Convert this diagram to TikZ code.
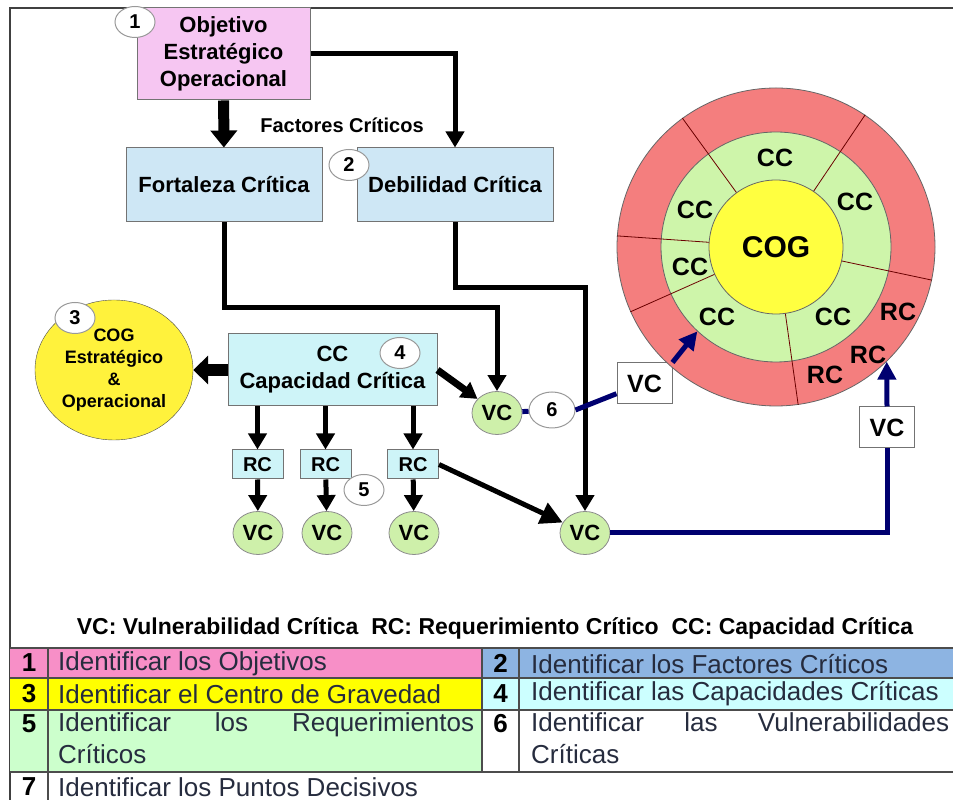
\documentclass[tikz,border=0pt]{standalone}
\usepackage{fontspec}
\setmainfont{Liberation Sans}
\usetikzlibrary{calc,shapes.geometric,arrows.meta,positioning}
\hyphenpenalty=10000
\exhyphenpenalty=10000

\definecolor{pinkbox}{RGB}{246,198,242}
\definecolor{bluebox}{RGB}{206,231,245}
\definecolor{cyanbox}{RGB}{206,244,248}
\definecolor{cogyellow}{RGB}{255,242,60}
\definecolor{vcgreen}{RGB}{206,240,170}
\definecolor{ringred}{RGB}{244,126,126}
\definecolor{ringgreen}{RGB}{206,245,170}
\definecolor{ringyellow}{RGB}{255,255,64}
\definecolor{navyline}{RGB}{0,0,112}
\definecolor{tabpink}{RGB}{247,143,199}
\definecolor{tabblue}{RGB}{141,180,226}
\definecolor{tabyellow}{RGB}{255,255,0}
\definecolor{tabcyan}{RGB}{204,255,255}
\definecolor{tabgreen}{RGB}{204,255,204}
\definecolor{tabtext}{RGB}{38,44,62}

\tikzset{
  frame/.style={draw=black!75, line width=1.5pt},
  box/.style={draw=black!55, line width=1pt, align=center, inner sep=0pt,
    font=\bfseries\fontsize{22}{27}\selectfont},
  numc/.style={ellipse, draw=black!40, fill=white, line width=1pt, inner sep=0pt,
    minimum width=40pt, minimum height=31pt, font=\bfseries\fontsize{20}{20}\selectfont},
  vcn/.style={ellipse, draw=black!45, fill=vcgreen, line width=0.8pt, inner sep=0pt,
    minimum width=50pt, minimum height=43pt, font=\bfseries\fontsize{22}{22}\selectfont},
  rcbox/.style={box, fill=cyanbox, minimum width=51pt, minimum height=29pt,
    font=\bfseries\fontsize{20}{20}\selectfont},
  vcbox/.style={draw=black!55, fill=white, line width=1pt, minimum width=55pt,
    minimum height=41pt, font=\bfseries\fontsize{25}{25}\selectfont},
  ringc/.style={circle, draw=black!60, line width=0.8pt, inner sep=0pt},
  ringtxt/.style={font=\bfseries\fontsize{25}{25}\selectfont},
  ringline/.style={draw=black!40!red!70!black, line width=0.8pt},
  blk/.style={line width=5pt, -{Triangle[width=18pt,length=16pt]}},
  blkwide/.style={line width=11pt, -{Triangle[width=26pt,length=17pt]}},
  blockarr/.style={line width=12pt, -{Triangle[width=28pt,length=15pt]}},
  navy/.style={draw=navyline, line width=5pt},
  navyarr/.style={navy, -{Triangle[width=18pt,length=18pt]}},
  tabline/.style={draw=black!70, line width=1.5pt},
  tabnum/.style={font=\bfseries\fontsize{26}{26}\selectfont},
  tabtxt/.style={anchor=west, inner sep=0pt, text=tabtext, font=\fontsize{26}{26}\selectfont},
  tabpar/.style={anchor=north west, inner sep=0pt, text=tabtext, align=justify,
    font=\fontsize{26}{32}\selectfont}
}

\begin{document}
\begin{tikzpicture}[x=1pt,y=1pt]
\useasboundingbox (0,0) rectangle (953,800);

% frame
\draw[frame] (10,0) -- (10,792) -- (953,792);

% objective and critical factors
\node[box, fill=pinkbox, minimum width=173pt, minimum height=92pt] (obj) at (223.5,746) {Objetivo\\Estratégico\\Operacional};
\node[box, fill=bluebox, minimum width=196pt, minimum height=74pt] (fort) at (224,615) {Fortaleza Crítica};
\node[box, fill=bluebox, minimum width=196pt, minimum height=74pt] (deb) at (455,615) {Debilidad Crítica};
\node[font=\bfseries\fontsize{20}{20}\selectfont] (fact) at (342,675) {Factores Críticos};

% centre of gravity and critical capability
\node[ellipse, draw=black!70, fill=cogyellow, minimum width=158pt, minimum height=140pt, inner sep=0pt,
  align=center, font=\bfseries\fontsize{18}{22}\selectfont] (cog) at (114,430) {COG\\Estratégico\\\&\\Operacional};
\node[box, fill=cyanbox, minimum width=209pt, minimum height=72pt] (cc) at (332.5,430) {CC\\Capacidad Crítica};

% requirements and vulnerabilities
\node[rcbox] (rc1) at (257.5,335.5) {RC};
\node[rcbox] (rc2) at (325.5,335.5) {RC};
\node[rcbox] (rc3) at (413,335.5) {RC};
\node[vcn] (vca) at (258,267) {VC};
\node[vcn] (vcb) at (327,267) {VC};
\node[vcn] (vcc) at (414,267) {VC};
\node[vcn] (vc1) at (497,387) {VC};
\node[vcn] (vc2) at (585,267) {VC};
\node[vcbox] (vcx1) at (644.5,416.5) {VC};
\node[vcbox] (vcx2) at (887,372.5) {VC};

% rings
\node[ringc, fill=ringred, minimum size=318pt] (ring) at (776,553) {};
\node[ringc, fill=ringgreen, minimum size=230pt] (mid) at (ring) {};
\node[ringc, fill=ringyellow, minimum size=134pt, font=\bfseries\fontsize{30}{30}\selectfont] (core) at (ring) {COG};
\foreach \a in {56,126,176,204,-12,-82}
  \draw[ringline] (core.\a) -- (ring.\a);
\node[ringtxt] (cc1) at (775,642) {CC};
\node[ringtxt] (cc2) at (855,598) {CC};
\node[ringtxt] (cc3) at (695,590) {CC};
\node[ringtxt] (cc4) at (690,533) {CC};
\node[ringtxt] (cc5) at (717,483) {CC};
\node[ringtxt] (cc6) at (833,483) {CC};
\node[ringtxt] (rcr1) at (898,488) {RC};
\node[ringtxt] (rcr2) at (868,445) {RC};
\node[ringtxt] (rcr3) at (825,425) {RC};

% black flow
\draw[blkwide] (obj) -- (fort);
\draw[blk] (obj.east) -| (deb.north);
\draw[blk] (fort.south) -- ++(0,-85) -| (vc1.north);
\draw[blk] (deb.south) -- ++(0,-65) -| (vc2.north);
\draw[blockarr] (cc.west) -- (cog.east);
\draw[blk, line width=7pt] (cc.east) -- (vc1);
\draw[blk] (rc1 |- cc.south) -- (rc1);
\draw[blk] (rc2 |- cc.south) -- (rc2);
\draw[blk] (rc3 |- cc.south) -- (rc3);
\draw[blk] (rc1) -- (vca);
\draw[blk] (rc2) -- (vcb);
\draw[blk] (rc3) -- (vcc);
\draw[blk, -{Triangle[width=22pt,length=22pt]}] (rc3.east) -- (vc2);

% navy flow
\node[numc, minimum width=46pt, minimum height=36pt] (n6) at (552,390) {6};
\draw[navy] (vc1) -- (n6);
\draw[navy] (n6.east) -- (vcx1.200);
\draw[navyarr] (vcx1.north east) -- (mid.227);
\draw[navy] (vc2.east) -| (vcx2.south);
\draw[navyarr] (vcx2.north) -- (ring.-46);

% step numbers
\node[numc] (n1) at (135,778) {1};
\node[numc] (n2) at (349,635) {2};
\node[numc] (n3) at (75,482) {3};
\node[numc] (n4) at (400,447) {4};
\node[numc] (n5) at (364,310) {5};

% legend
\node[font=\bfseries\fontsize{23}{23}\selectfont] (leg) at (495,172) {VC: Vulnerabilidad Crítica\ \ RC: Requerimiento Crítico\ \ CC: Capacidad Crítica};

% table
\fill[tabpink] (10,122) rectangle (482,152);
\fill[tabblue] (482,122) rectangle (953,152);
\fill[tabyellow] (10,90) rectangle (482,122);
\fill[tabcyan] (482,90) rectangle (953,122);
\fill[tabgreen] (10,28) rectangle (482,90);
\draw[tabline] (10,152) -- (953,152) (10,122) -- (953,122) (10,90) -- (953,90) (10,28) -- (953,28);
\draw[tabline] (48,152) -- (48,0) (482,152) -- (482,28) (519,152) -- (519,28);
\node[tabnum] (s1) at (29,137) {1};
\node[tabnum] (s2) at (500.5,137) {2};
\node[tabnum] (s3) at (29,106) {3};
\node[tabnum] (s4) at (500.5,106) {4};
\node[tabnum] (s5) at (29,76) {5};
\node[tabnum] (s6) at (500.5,76) {6};
\node[tabnum] (s7) at (29,13) {7};
\node[tabtxt] (d1) at (58,136) {Identificar los Objetivos};
\node[tabtxt] (d2) at (531,136) {Identificar los Factores Críticos};
\node[tabtxt] (d3) at (58,106) {Identificar el Centro de Gravedad};
\node[tabtxt] (d4) at (531,106) {Identificar las Capacidades Críticas};
\node[tabpar, text width=416pt] (d5) at (58,88) {Identificar los Requerimientos Críticos};
\node[tabpar, text width=418pt] (d6) at (531,88) {Identificar las Vulnerabilidades Críticas};
\node[tabtxt] (d7) at (58,13) {Identificar los Puntos Decisivos};
\end{tikzpicture}
\end{document}
